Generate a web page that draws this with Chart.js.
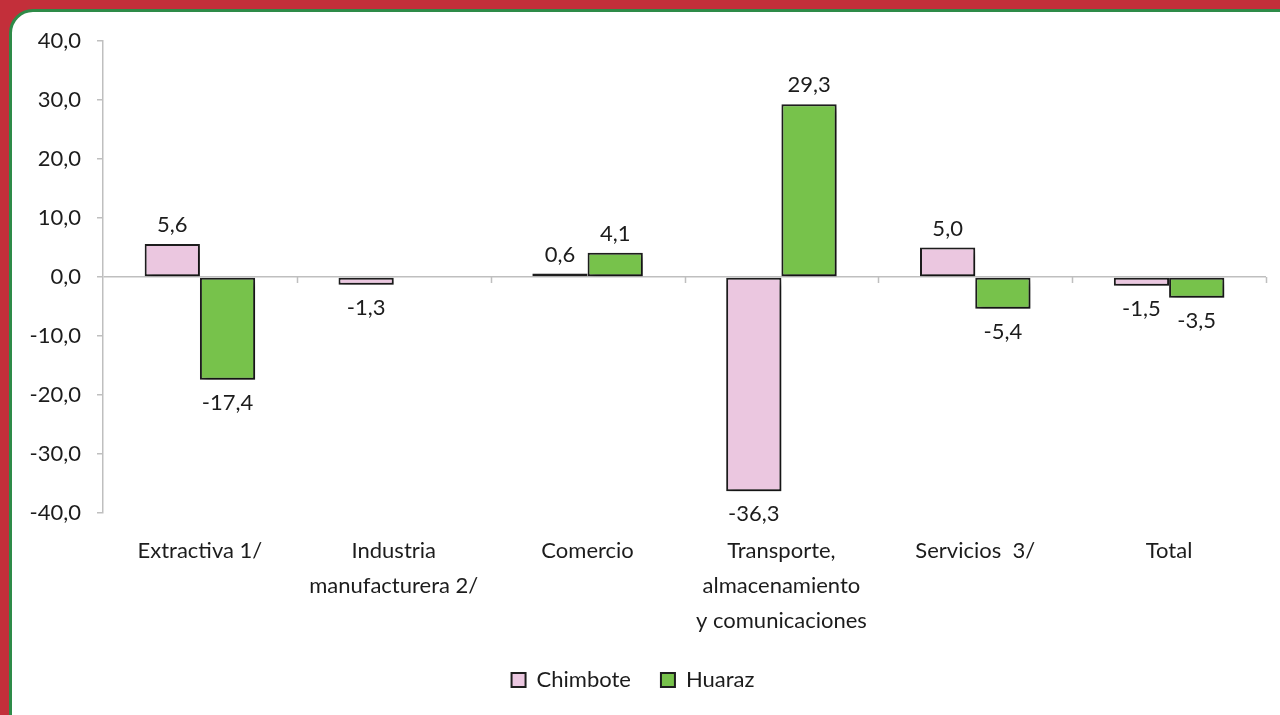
<!DOCTYPE html>
<html>
<head>
<meta charset="utf-8">
<script src="https://cdn.jsdelivr.net/npm/chart.js@4.4.1/dist/chart.umd.min.js"></script>
<style>
  html, body { margin: 0; padding: 0; width: 1280px; height: 715px; overflow: hidden; background: #C32F3A; }
  #panel {
    position: absolute; left: 9px; top: 9px; width: 1300px; height: 740px;
    background: #fff; border: 3px solid #2E8B48; border-top-left-radius: 24px;
  }
  #chart { position: absolute; left: 0; top: 0; }
</style>
</head>
<body>
<div id="panel"></div>
<canvas id="chart" width="1280" height="715"></canvas>
<script>
  // categories and series
  var categorias = ["Extractiva 1/", ["Industria", "manufacturera 2/"], "Comercio",
    ["Transporte,", "almacenamiento", "y comunicaciones"], "Servicios  3/", "Total"];
  var chimbote = [5.6, -1.3, 0.6, -36.3, 5.0, -1.5];
  var huaraz = [-17.4, null, 4.1, 29.3, -5.4, -3.5];

  var FONT = "Lato";
  var TEXT = "#1C1C1C";
  var AXIS = "#BFBFBF";

  function coma(v) {
    return v.toFixed(1).replace(".", ",");
  }

  // soft shadow under the bars
  var shadowPlugin = {
    id: "shadow",
    beforeDatasetsDraw: function (chart) {
      var ctx = chart.ctx;
      ctx.save();
      ctx.shadowColor = "rgba(0,0,0,0.4)";
      ctx.shadowBlur = 6;
      ctx.shadowOffsetX = 3;
      ctx.shadowOffsetY = 4;
    },
    afterDatasetsDraw: function (chart) {
      chart.ctx.restore();
    }
  };

  // value labels on the bars
  var labelPlugin = {
    id: "valores",
    afterDatasetsDraw: function (chart) {
      var ctx = chart.ctx;
      ctx.save();
      ctx.font = "22px " + FONT;
      ctx.fillStyle = TEXT;
      ctx.textAlign = "center";
      ctx.textBaseline = "middle";
      chart.data.datasets.forEach(function (ds, di) {
        var meta = chart.getDatasetMeta(di);
        meta.data.forEach(function (bar, i) {
          var v = ds.data[i];
          if (v === null || v === undefined) return;
          var y = v >= 0 ? Math.min(bar.y, bar.base) - 19 : Math.max(bar.y, bar.base) + 23;
          ctx.fillText(coma(v), bar.x, y);
        });
      });
      ctx.restore();
    }
  };

  // small category tick marks on the zero line
  var zeroTicks = {
    id: "zeroTicks",
    beforeDatasetsDraw: function (chart) {
      var xs = chart.scales.x, ys = chart.scales.y, ctx = chart.ctx;
      var y0 = ys.getPixelForValue(0);
      var w = (xs.right - xs.left) / categorias.length;
      ctx.save();
      ctx.strokeStyle = AXIS;
      ctx.lineWidth = 1.5;
      ctx.beginPath();
      for (var i = 1; i <= categorias.length; i++) {
        var x = Math.round(xs.left + i * w) + 0.5;
        ctx.moveTo(x, y0);
        ctx.lineTo(x, y0 + 6);
      }
      ctx.stroke();
      ctx.restore();
    }
  };

  var ctx = document.getElementById("chart").getContext("2d");
  var chart = new Chart(ctx, {
    type: "bar",
    data: {
      labels: categorias,
      datasets: [{
        label: "Chimbote",
        data: chimbote,
        backgroundColor: "#EBC7E0",
        borderColor: "#1E1E1E",
        borderWidth: 2,
        borderSkipped: false,
        categoryPercentage: 0.57,
        barPercentage: 1
      }, {
        label: "Huaraz",
        data: huaraz,
        backgroundColor: "#77C24B",
        borderColor: "#1E1E1E",
        borderWidth: 2,
        borderSkipped: false,
        categoryPercentage: 0.57,
        barPercentage: 1
      }]
    },
    options: {
      responsive: false,
      animation: false,
      devicePixelRatio: 1,
      layout: { padding: { left: 0, right: 14, top: 41, bottom: 14 } },
      plugins: {
        tooltip: { enabled: false },
        legend: {
          position: "bottom",
          labels: {
            font: { family: FONT, size: 22 },
            color: TEXT,
            boxWidth: 14,
            boxHeight: 14,
            padding: 30
          }
        }
      },
      scales: {
        x: {
          grid: { display: false, drawTicks: false },
          border: { display: false },
          ticks: {
            font: { family: FONT, size: 22, lineHeight: 1.6 },
            color: TEXT,
            padding: 20,
            maxRotation: 0,
            autoSkip: false
          },
          afterFit: function (scale) { scale.height = 126; }
        },
        y: {
          min: -40,
          max: 40,
          ticks: {
            stepSize: 10,
            font: { family: FONT, size: 22 },
            color: TEXT,
            padding: 16,
            callback: function (v) { return coma(v); }
          },
          grid: {
            color: function (c) { return c.tick && c.tick.value === 0 ? AXIS : "rgba(0,0,0,0)"; },
            tickColor: AXIS,
            tickLength: 6,
            lineWidth: 1.5
          },
          border: { color: AXIS, width: 1.5 },
          afterFit: function (scale) { scale.width = 103; }
        }
      }
    },
    plugins: [zeroTicks, shadowPlugin, labelPlugin]
  });
</script>
</body>
</html>
